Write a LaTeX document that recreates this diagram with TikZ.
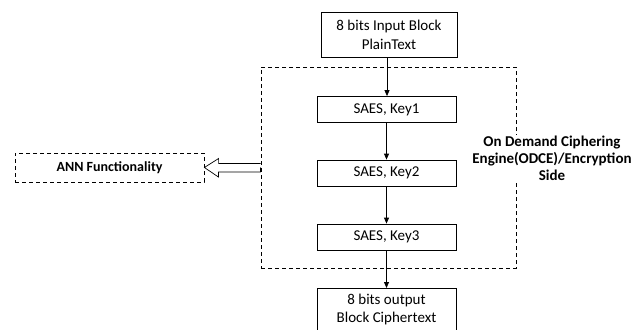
\documentclass[tikz,border=0pt]{standalone}
\usepackage{fontspec}
\setmainfont{Carlito}
\usetikzlibrary{arrows.meta,shapes.arrows}
\begin{document}
\begin{tikzpicture}[x=1pt,y=-1pt,
  blk/.style={draw,line width=0.8pt,inner sep=0pt,align=center,font=\fontsize{15}{19}\selectfont},
  arr/.style={-{Triangle[length=6pt,width=5pt]},line width=0.8pt},
  dsh/.style={draw,dashed,dash pattern=on 4pt off 3pt,line width=0.8pt}]
\useasboundingbox (0,0) rectangle (639,329);
\node[blk,minimum width=136pt,minimum height=45pt] (in) at (389,34.5) {8 bits Input Block\\PlainText};
\node[blk,minimum width=139pt,minimum height=26pt] (k1) at (386.5,109.5) {SAES, Key1};
\node[blk,minimum width=139pt,minimum height=26pt] (k2) at (386.5,173) {SAES, Key2};
\node[blk,minimum width=139pt,minimum height=26pt] (k3) at (386.5,237) {SAES, Key3};
\node[blk,minimum width=139pt,minimum height=43pt,anchor=north,font=\fontsize{15}{18}\selectfont] (out) at (386.5,288) {8 bits output\\Block Ciphertext};
\node[dsh,minimum width=255pt,minimum height=201pt,inner sep=0pt] (eng) at (388.5,167.5) {};
\node[dsh,minimum width=189pt,minimum height=29pt,inner sep=0pt,font=\fontsize{14}{16}\bfseries\selectfont] (ann) at (109.5,167.5) {ANN Functionality};
\node[align=center,fill=white,inner sep=1pt,font=\fontsize{15}{17}\bfseries\selectfont] (lbl) at (552,158) {On Demand Ciphering\\Engine(ODCE)/Encryption\\Side};
\draw[arr] (in.south -| 387,0) -- (k1.north -| 387,0);
\draw[arr] (k1) -- (k2);
\draw[arr] (k2) -- (k3);
\draw[arr] (k3) -- (out);
\draw[line width=0.7pt] (eng.west) ++(0,-4) -- ++(-42,0) -- ++(0,-5) -- (ann.east) -- ++(14,9.5) -- ++(0,-5) -- ++(42,0) -- (eng.west);
\end{tikzpicture}
\end{document}
